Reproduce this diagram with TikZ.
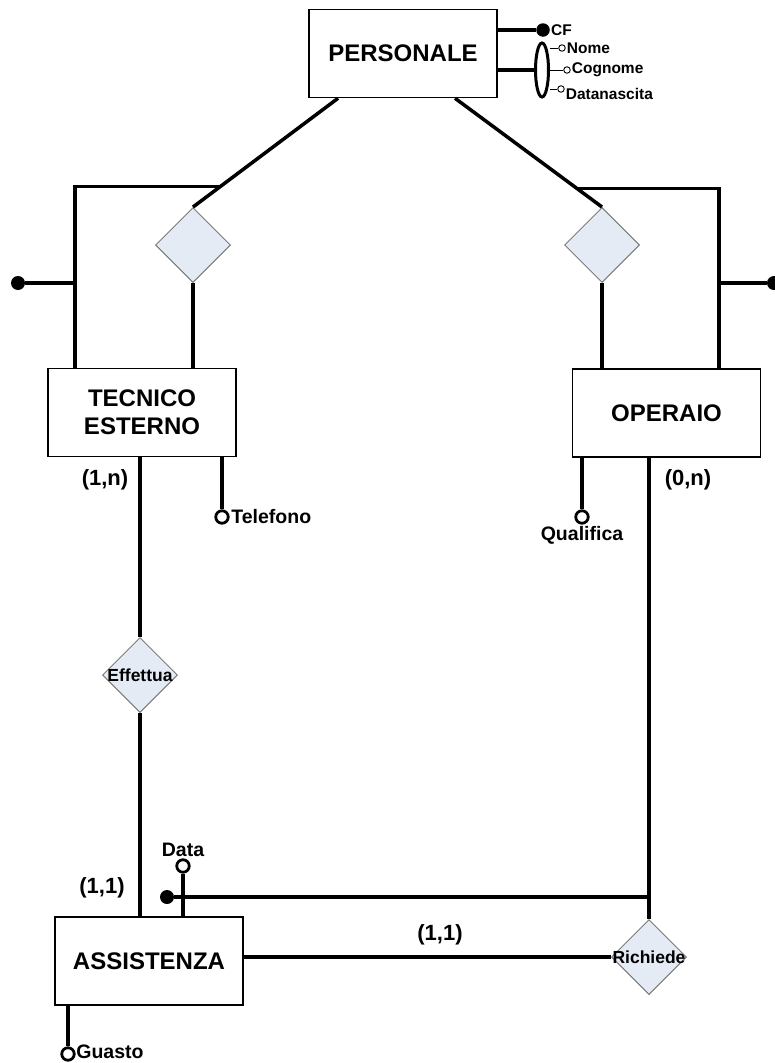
\documentclass[tikz,border=0pt]{standalone}
\usepackage{fontspec}
\setmainfont{Liberation Sans}
\usetikzlibrary{shapes.geometric,calc}

\definecolor{relblu}{HTML}{E5EBF5}
\definecolor{relbordo}{HTML}{7A7A7A}

\tikzset{
 entita/.style={draw, line width=1.5pt, rectangle, minimum width=188pt, minimum height=88pt,
   align=center, font=\fontsize{24}{28}\selectfont\bfseries},
 relazione/.style={diamond, draw=relbordo, line width=1pt, fill=relblu, minimum size=75pt, inner sep=0pt},
 reltesto/.style={font=\fontsize{17.5}{20}\selectfont\bfseries, inner sep=0pt},
 linea/.style={line width=3.5pt},
 sottile/.style={line width=1pt},
 card/.style={font=\fontsize{22}{24}\selectfont\bfseries},
 attr/.style={circle, draw, line width=2.8pt, fill=white, minimum size=12.5pt, inner sep=0pt},
 attrtesto/.style={font=\fontsize{19.5}{22}\selectfont\bfseries, inner sep=1.5pt},
 attrpic/.style={circle, draw, line width=0.9pt, fill=white, minimum size=6.5pt, inner sep=0pt},
 pictesto/.style={font=\fontsize{15.5}{18}\selectfont\bfseries, inner sep=1pt},
 chiave/.style={circle, fill=black, minimum size=14pt, inner sep=0pt},
}

\begin{document}
\begin{tikzpicture}[x=1pt, y=-1pt]
 \useasboundingbox (0,0) rectangle (774,1063);
 % entita
 \node[entita] (pers) at (403,53.5) {PERSONALE};
 \node[entita] (tec) at (142,412.5) {TECNICO\\ESTERNO};
 \node[entita] (ope) at (666.5,413) {OPERAIO};
 \node[entita] (ass) at (149,961) {ASSISTENZA};
 % generalizzazioni
 \node[relazione] (isaT) at (193,245) {};
 \node[relazione] (isaO) at (602,245) {};
 \coordinate (pT) at ([xshift=-65pt]pers.south);
 \coordinate (pO) at ([xshift=52pt]pers.south);
 \draw[linea] (pT) -- (isaT.north);
 \draw[linea] (pO) -- (isaO.north);
 \coordinate (gT) at ($(pT)!0.81!(isaT.north)$);
 \coordinate (gO) at ($(pO)!0.83!(isaO.north)$);
 \coordinate (vT) at ([xshift=-67pt]tec.north);
 \coordinate (vO) at ([xshift=52.5pt]ope.north);
 \draw[linea] (gT) -| (vT);
 \draw[linea] (gO) -| (vO);
 \draw[linea] (isaT.south) -- (isaT.south |- tec.north);
 \draw[linea] (isaO.south) -- (isaO.south |- ope.north);
 % copertura
 \node[chiave] (puntoT) at (18,283) {};
 \node[chiave] (puntoO) at (774,283) {};
 \draw[linea] (puntoT) -- (puntoT -| vT);
 \draw[linea] (puntoO) -- (puntoO -| vO);
 % attributi di PERSONALE
 \node[chiave, minimum size=13.5pt, label={[pictesto]right:CF}] (cf) at (543,30) {};
 \draw[linea] (cf -| pers.east) -- (cf);
 \node[ellipse, draw, line width=3pt, minimum width=13pt, minimum height=54pt, inner sep=0pt] (comp) at (542,70) {};
 \draw[linea] (comp -| pers.east) -- (comp.west);
 \node[attrpic, label={[pictesto]right:Nome}] (nome) at (562,48) {};
 \node[attrpic, label={[pictesto]right:Cognome}] (cognome) at (567,70) {};
 \node[attrpic, label={[pictesto, yshift=-5pt]right:Datanascita}] (datan) at (561,89) {};
 \draw[sottile] (nome -| comp.east) -- (nome);
 \draw[sottile] (cognome -| comp.east) -- (cognome);
 \draw[sottile] (datan -| comp.east) -- (datan);
 % attributi
 \node[attr, label={[attrtesto]right:Telefono}] (telefono) at (222,517) {};
 \node[attr, label={[attrtesto]below:Qualifica}] (qualifica) at (582,517) {};
 \node[attr, label={[attrtesto]above:Data}] (data) at (183,866) {};
 \node[attr, label={[attrtesto, inner sep=0.5pt, yshift=2pt]right:Guasto}] (guasto) at (68,1054) {};
 \draw[linea] (telefono |- tec.south) -- (telefono);
 \draw[linea] (qualifica |- ope.south) -- (qualifica);
 \draw[linea] (data |- ass.north) -- (data);
 \draw[linea] (guasto |- ass.south) -- (guasto);
 % relazioni
 \node[relazione, label={[reltesto]center:Effettua}] (eff) at (140,675) {};
 \node[relazione, label={[reltesto]center:Richiede}] (ric) at (649,957) {};
 \draw[linea] (eff.north |- tec.south) -- (eff.north);
 \draw[linea] (eff.south) -- (eff.south |- ass.north);
 \draw[linea] (ric.north |- ope.south) -- (ric.north);
 \draw[linea] (ric.west -| ass.east) -- (ric.west);
 % identificatore esterno
 \node[chiave] (puntoA) at (167,897) {};
 \draw[linea] (puntoA) -- (puntoA -| ric.north);
 % cardinalita
 \node[card] (c1) at (105,480) {(1,n)};
 \node[card] (c2) at (688,480) {(0,n)};
 \node[card] (c3) at (102,888) {(1,1)};
 \node[card] (c4) at (440,935) {(1,1)};
\end{tikzpicture}
\end{document}
